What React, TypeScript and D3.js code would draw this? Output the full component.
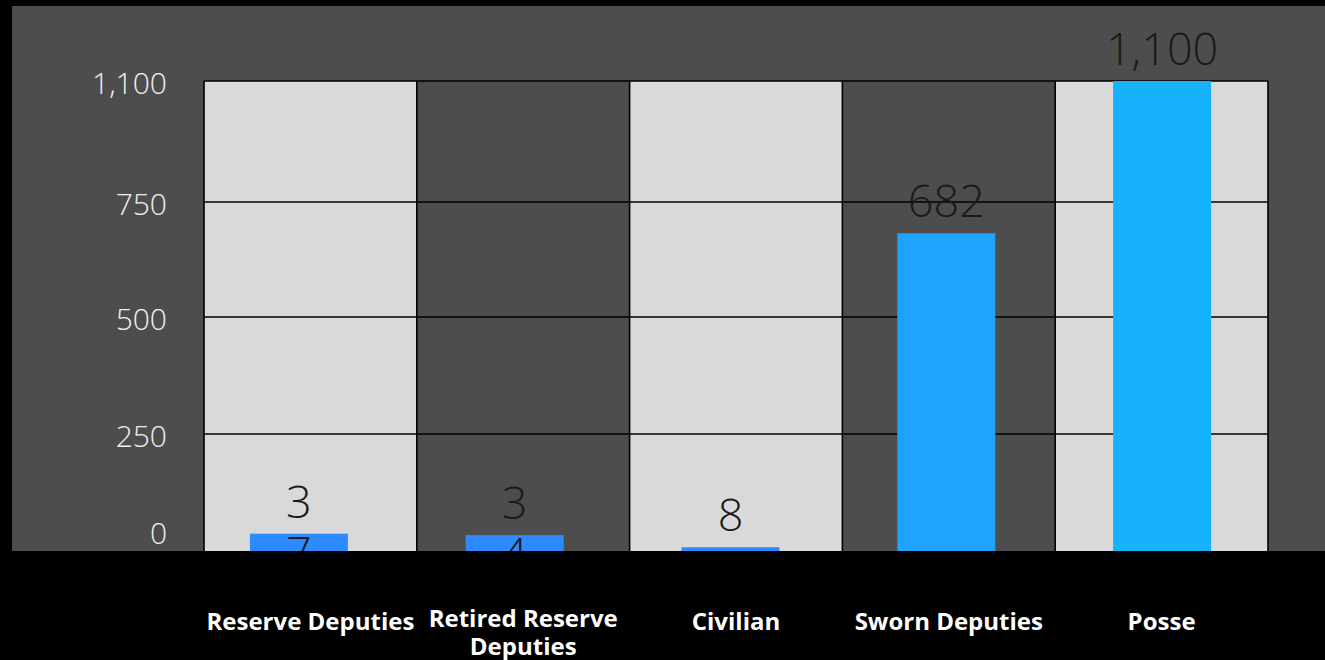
import React, { useEffect, useRef } from "react";
import * as d3 from "d3";

const categories = [
  "Reserve Deputies",
  "Retired Reserve Deputies",
  "Civilian",
  "Sworn Deputies",
  "Posse",
];
const values = [37, 34, 8, 682, 1100];
const yTicks = [0, 250, 500, 750, 1100];

const W = 1325;
const H = 660;

export default function App() {
  const ref = useRef<SVGSVGElement | null>(null);

  useEffect(() => {
    const svg = d3.select(ref.current);
    svg.selectAll("*").remove();

    const plotLeft = 204;
    const plotRight = 1268;
    const plotTop = 81;
    const plotBottom = 551;

    const xCol = d3.scaleBand<string>().domain(categories).range([plotLeft, plotRight]).padding(0);
    const xBar = d3
      .scaleBand<string>()
      .domain(categories)
      .range([191, 1270])
      .paddingInner(0.546)
      .paddingOuter(0.273);
    const y = d3.scaleLinear().domain(yTicks).range([plotBottom, 434, 317, 202, plotTop]);
    const color = d3.scaleLinear<string>().domain([0, 1100]).range(["#2e8aff", "#16b2fc"]);
    const fmt = d3.format(",");

    svg.append("rect").attr("width", W).attr("height", H).attr("fill", "#000");
    svg
      .append("rect")
      .attr("x", 12)
      .attr("y", 6)
      .attr("width", W - 12)
      .attr("height", plotBottom - 6)
      .attr("fill", "#4d4d4d");

    svg
      .append("g")
      .selectAll("rect")
      .data(categories)
      .join("rect")
      .attr("x", (d) => xCol(d)!)
      .attr("y", plotTop)
      .attr("width", xCol.bandwidth())
      .attr("height", plotBottom - plotTop + 10)
      .attr("fill", (_, i) => (i % 2 === 0 ? "#d9d9d9" : "#4d4d4d"));

    svg
      .append("g")
      .selectAll("line")
      .data(yTicks.filter((t) => t > 0))
      .join("line")
      .attr("x1", plotLeft)
      .attr("x2", plotRight)
      .attr("y1", (d) => y(d))
      .attr("y2", (d) => y(d))
      .attr("stroke", "#000")
      .attr("stroke-width", 1.6);

    const borders = [...categories.map((c) => xCol(c)!), plotRight];
    svg
      .append("g")
      .selectAll("line")
      .data(borders)
      .join("line")
      .attr("x1", (d) => d)
      .attr("x2", (d) => d)
      .attr("y1", plotTop)
      .attr("y2", plotBottom + 10)
      .attr("stroke", "#000")
      .attr("stroke-width", 1.6);

    svg
      .append("g")
      .selectAll("rect")
      .data(values)
      .join("rect")
      .attr("x", (_, i) => xBar(categories[i])!)
      .attr("y", (d) => y(d))
      .attr("width", xBar.bandwidth())
      .attr("height", (d) => y(0) - y(d))
      .attr("fill", (d) => color(d));

    const vl = svg
      .append("g")
      .selectAll("text")
      .data(values)
      .join("text")
      .attr("x", (_, i) => xBar(categories[i])! + xBar.bandwidth() / 2)
      .attr("y", (d) => y(d) - 16)
      .attr("text-anchor", "middle")
      .attr("font-family", "'Open Sans', sans-serif")
      .attr("font-weight", 300)
      .attr("font-size", 45)
      .attr("fill", "#1a1a1a");
    vl.each(function (d) {
      const t = d3.select(this);
      const s = fmt(d);
      const lines = d >= 10 && d < 100 ? s.split("") : [s];
      const x = t.attr("x");
      lines.forEach((ln, k) => {
        t.append("tspan").attr("x", x).attr("dy", k === 0 ? 0 : 51).text(ln);
      });
    });

    svg
      .append("rect")
      .attr("x", 0)
      .attr("y", plotBottom)
      .attr("width", W)
      .attr("height", H - plotBottom)
      .attr("fill", "#000");

    svg
      .append("g")
      .selectAll("text")
      .data(yTicks)
      .join("text")
      .attr("x", 167)
      .attr("y", (d) => Math.min(y(d), plotBottom - 20) + 1)
      .attr("text-anchor", "end")
      .attr("dominant-baseline", "central")
      .attr("font-family", "'Open Sans', sans-serif")
      .attr("font-weight", 300)
      .attr("font-size", 30)
      .attr("fill", "#f0f0f0")
      .text((d) => fmt(d));

    const maxW = 225;
    const xl = svg
      .append("g")
      .selectAll("text")
      .data(categories)
      .join("text")
      .attr("x", (d) => xCol(d)! + xCol.bandwidth() / 2)
      .attr("y", 620)
      .attr("text-anchor", "middle")
      .attr("dominant-baseline", "central")
      .attr("font-family", "'Open Sans', sans-serif")
      .attr("font-weight", 700)
      .attr("font-size", 24)
      .attr("fill", "#ffffff");
    xl.each(function (d) {
      const t = d3.select(this);
      const x = t.attr("x");
      const words = d.split(" ");
      let line: string[] = [];
      let tspan = t.append("tspan").attr("x", x).attr("dy", 0);
      let lineNo = 0;
      for (const w of words) {
        line.push(w);
        tspan.text(line.join(" "));
        const node = tspan.node() as SVGTSpanElement;
        if (node.getComputedTextLength() > maxW && line.length > 1) {
          line.pop();
          tspan.text(line.join(" "));
          line = [w];
          lineNo++;
          tspan = t.append("tspan").attr("x", x).attr("dy", 28).text(w);
        }
      }
      if (lineNo > 0) t.attr("y", 617);
    });
  }, []);

  return (
    <div style={{ position: "fixed", left: 0, top: 0, width: W, height: H }}>
      <svg ref={ref} width={W} height={H} style={{ display: "block" }} />
    </div>
  );
}
